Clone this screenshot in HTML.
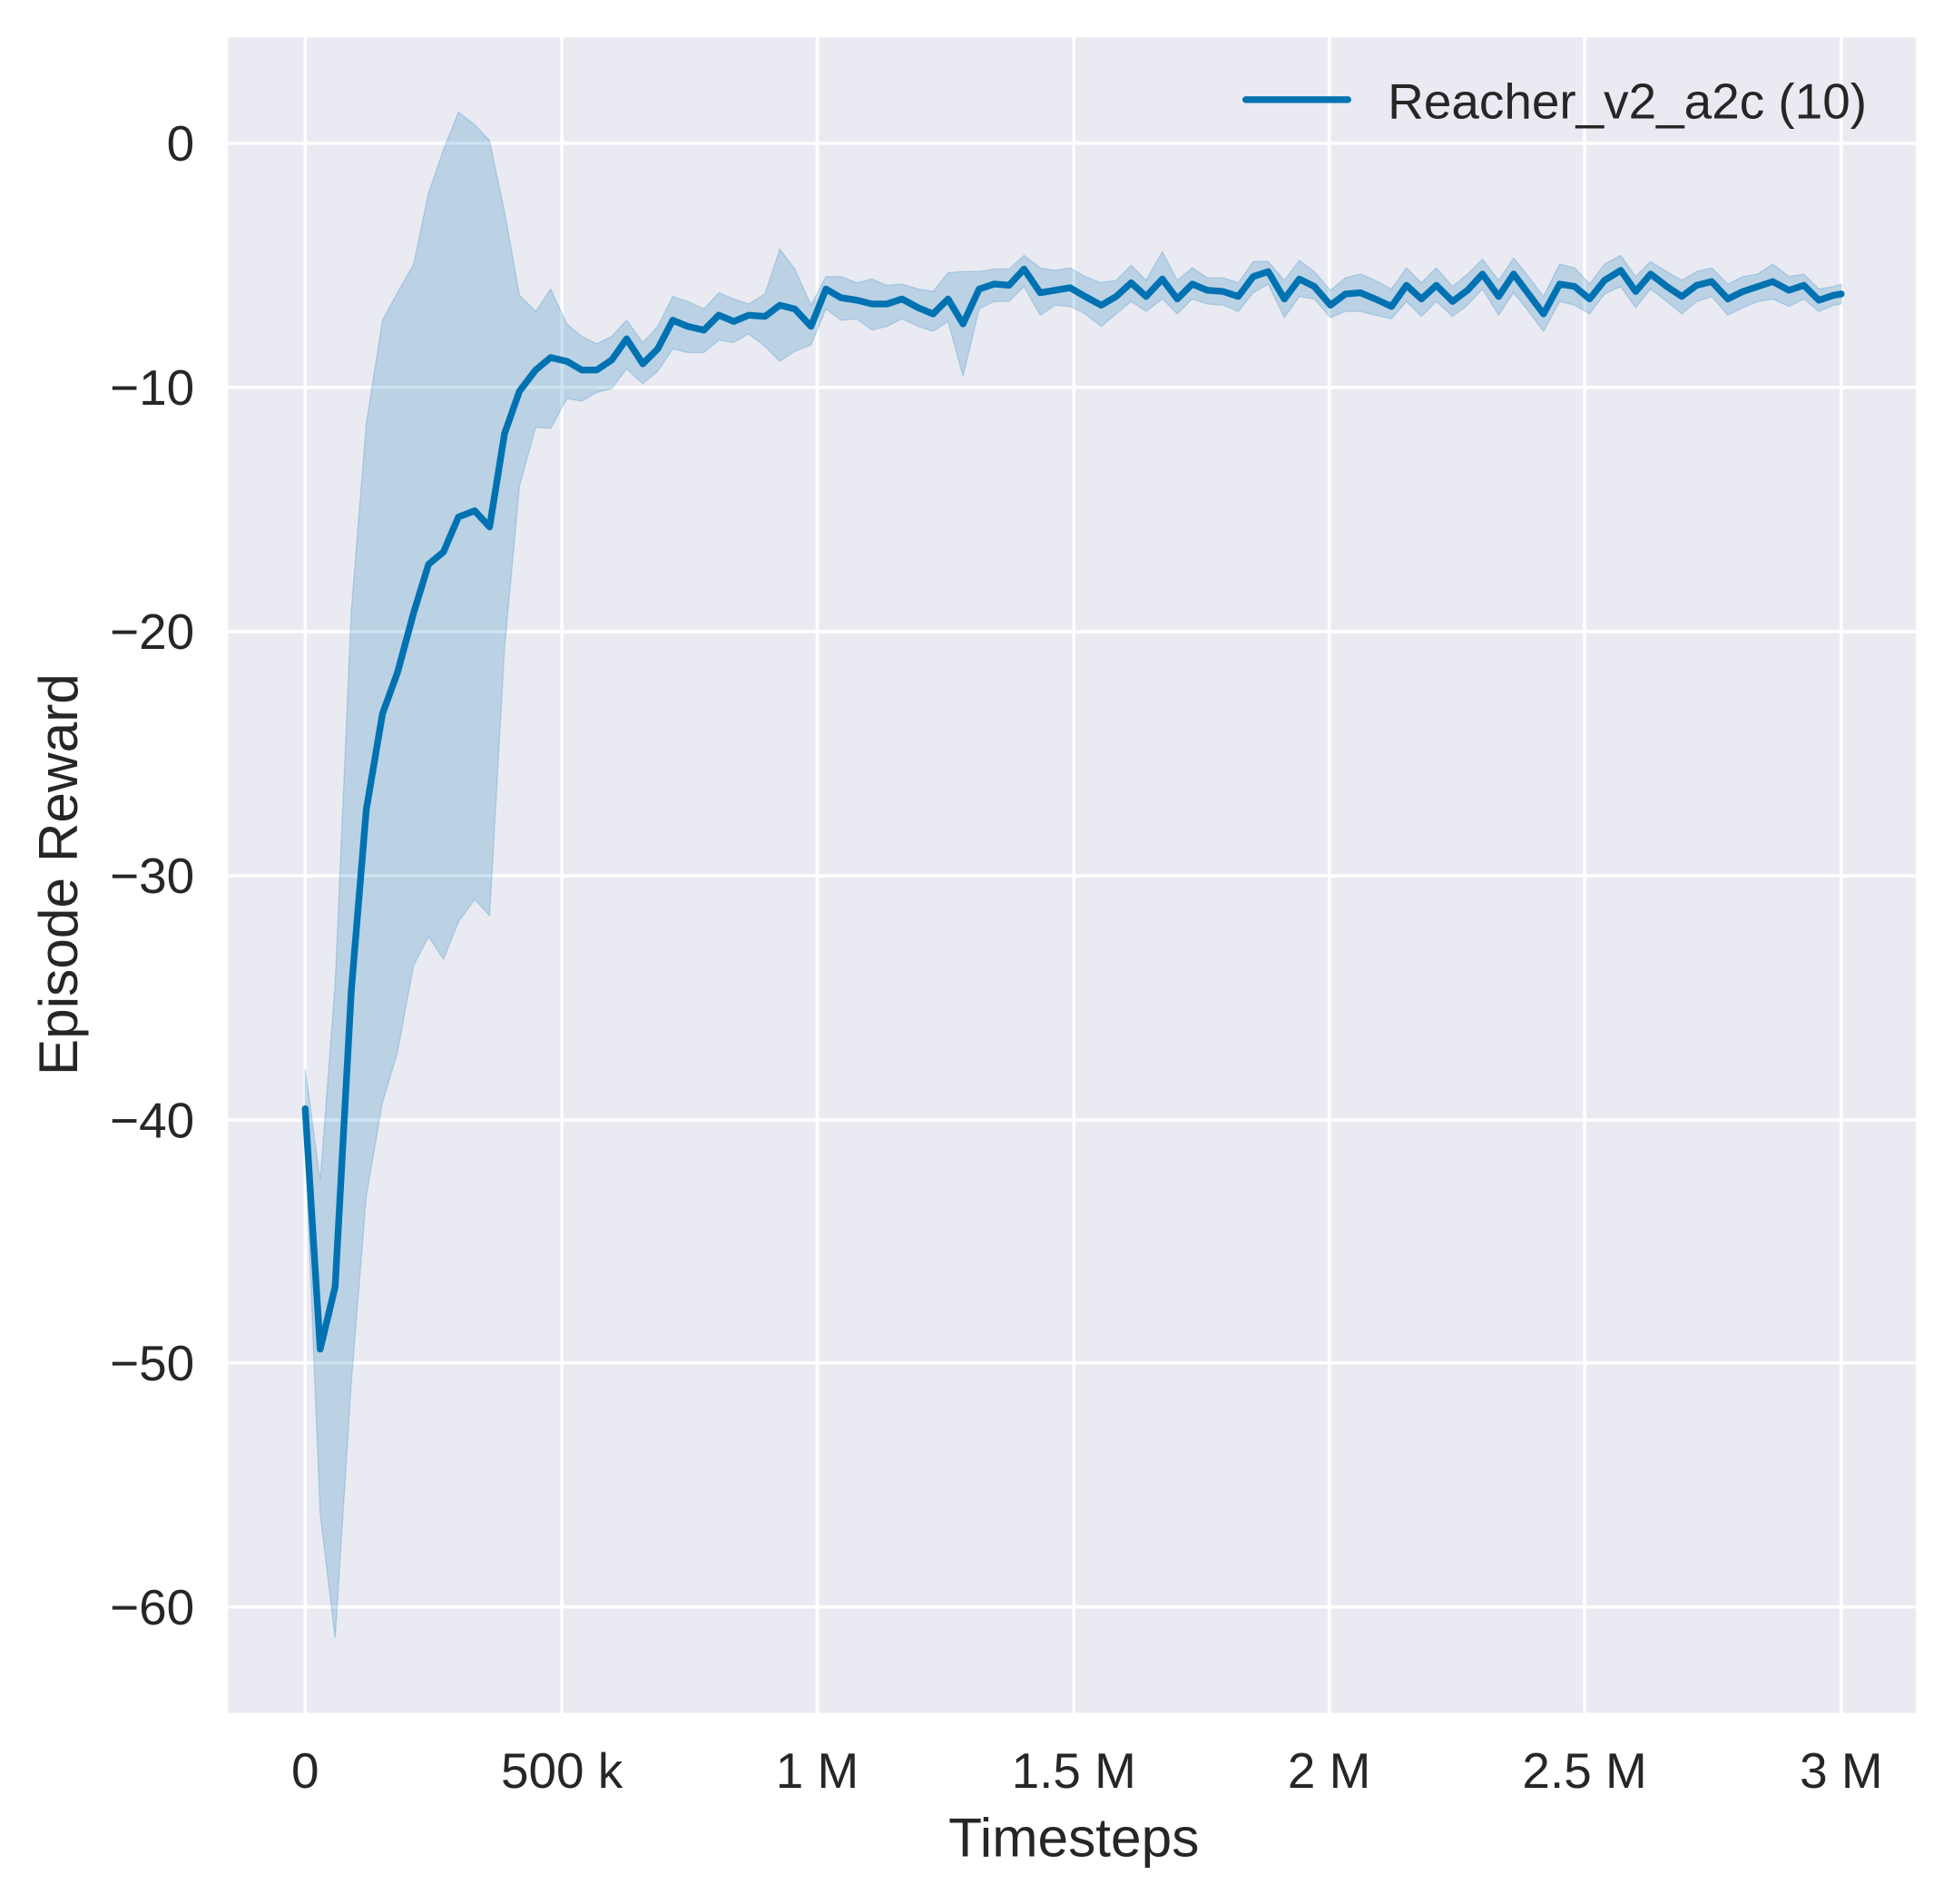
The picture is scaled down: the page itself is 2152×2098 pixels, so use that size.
<!DOCTYPE html>
<html><head><meta charset="utf-8"><style>html,body{margin:0;padding:0;background:#fff}svg{display:block}</style></head>
<body>
<svg width="2152" height="2098" viewBox="0 0 1567.7 1528.4" xmlns="http://www.w3.org/2000/svg" font-family="Liberation Sans, sans-serif">
<rect x="183" y="30" width="1355" height="1345" fill="#eaeaf2"/>
<g stroke="#ffffff" stroke-width="2.6">
<line x1="245" y1="30" x2="245" y2="1375"/><line x1="451" y1="30" x2="451" y2="1375"/><line x1="656" y1="30" x2="656" y2="1375"/><line x1="862" y1="30" x2="862" y2="1375"/><line x1="1067" y1="30" x2="1067" y2="1375"/><line x1="1272" y1="30" x2="1272" y2="1375"/><line x1="1478" y1="30" x2="1478" y2="1375"/>
<line x1="183" y1="115" x2="1538" y2="115"/><line x1="183" y1="311" x2="1538" y2="311"/><line x1="183" y1="507" x2="1538" y2="507"/><line x1="183" y1="703" x2="1538" y2="703"/><line x1="183" y1="899" x2="1538" y2="899"/><line x1="183" y1="1094" x2="1538" y2="1094"/><line x1="183" y1="1290" x2="1538" y2="1290"/>
</g>
<polygon fill="#0072b2" fill-opacity="0.2" stroke="#0072b2" stroke-opacity="0.2" stroke-width="1" points="245,858 257,948 269,790 282,490 294,340 307,257 319,235 332,212 344,155 356,120 368,90 381,100 393,113 405,170 417,237 430,250 442,232 455,260 467,270 479,276 491,270 503,257 516,275 528,262 540,238 552,242 565,248 577,235 589,240 601,244 614,236 626,200 638,216 651,245 663,222 675,222 688,227 700,224 712,229 724,228 737,232 749,234 761,219 773,218 786,218 798,216 810,216 822,205 835,215 847,217 859,215 871,222 884,227 896,225 908,213 920,225 933,202 945,225 957,215 969,223 982,223 994,227 1006,210 1018,210 1031,225 1043,209 1055,218 1068,233 1080,223 1092,220 1104,225 1117,232 1129,215 1141,227 1153,215 1166,230 1178,220 1190,208 1203,225 1215,207 1227,222 1239,238 1252,212 1264,215 1276,228 1288,212 1301,205 1313,222 1325,210 1338,218 1350,225 1362,218 1374,215 1387,228 1399,222 1411,220 1423,212 1436,222 1448,220 1460,232 1472,230 1478,228
1478,244 1472,245 1460,250 1448,240 1436,246 1423,240 1411,242 1399,247 1387,253 1374,238 1362,242 1350,252 1338,242 1325,232 1313,247 1301,230 1288,236 1276,252 1264,245 1252,242 1239,266 1227,250 1215,235 1203,253 1190,232 1178,245 1166,254 1153,242 1141,254 1129,242 1117,256 1104,253 1092,250 1080,250 1068,255 1055,240 1043,238 1031,255 1018,228 1006,235 994,250 982,245 969,244 957,240 945,252 933,240 920,250 908,242 896,252 884,262 871,252 859,246 847,245 835,253 822,230 810,242 798,242 786,248 773,302 761,258 749,266 737,262 724,256 712,262 700,265 688,256 675,257 663,248 651,277 638,282 626,290 614,278 601,268 589,275 577,273 565,283 552,283 540,280 528,298 516,308 503,296 491,312 479,315 467,322 455,320 442,344 430,343 417,390 405,520 393,735 381,722 368,740 356,770 344,752 332,775 319,845 307,885 294,960 282,1110 269,1315 257,1215 245,918"/>
<polyline fill="none" stroke="#0072b2" stroke-width="5.4" stroke-linejoin="round" stroke-linecap="round" points="245,890 257,1083 269,1033 282,795 294,650 307,573 319,540 332,492 344,453 356,443 368,415 381,410 393,423 405,348 417,314 430,297 442,287 455,290 467,297 479,297 491,289 503,272 516,292 528,280 540,257 552,262 565,265 577,253 589,258 601,253 614,254 626,245 638,248 651,262 663,232 675,239 688,241 700,244 712,244 724,240 737,247 749,252 761,240 773,260 786,232 798,228 810,229 822,216 835,235 847,233 859,231 871,238 884,245 896,238 908,227 920,238 933,224 945,240 957,228 969,233 982,234 994,238 1006,222 1018,218 1031,240 1043,224 1055,230 1068,245 1080,236 1092,235 1104,240 1117,246 1129,229 1141,240 1153,229 1166,242 1178,233 1190,220 1203,238 1215,220 1227,236 1239,252 1252,228 1264,230 1276,240 1288,225 1301,217 1313,234 1325,220 1338,230 1350,238 1362,229 1374,226 1387,240 1399,234 1411,230 1423,226 1436,233 1448,229 1460,241 1472,237 1478,236"/>
<g fill="#262626" font-size="40">
<g text-anchor="middle">
<text x="245" y="1435">0</text><text x="451" y="1435">500 k</text><text x="656" y="1435">1 M</text><text x="862" y="1435">1.5 M</text><text x="1067" y="1435">2 M</text><text x="1272" y="1435">2.5 M</text><text x="1478" y="1435">3 M</text>
</g>
<g text-anchor="end">
<text x="156" y="129">0</text><text x="156" y="325">−10</text><text x="156" y="521">−20</text><text x="156" y="717">−30</text><text x="156" y="913">−40</text><text x="156" y="1108">−50</text><text x="156" y="1304">−60</text>
</g>
<text x="862" y="1490" text-anchor="middle" font-size="44">Timesteps</text>
<text transform="translate(62,702) rotate(-90)" text-anchor="middle" font-size="44">Episode Reward</text>
<line x1="1000" y1="80" x2="1082" y2="80" stroke="#0072b2" stroke-width="5.4" stroke-linecap="round"/>
<text x="1114" y="95" font-size="40">Reacher_v2_a2c (10)</text>
</g>
</svg>
</body></html>
